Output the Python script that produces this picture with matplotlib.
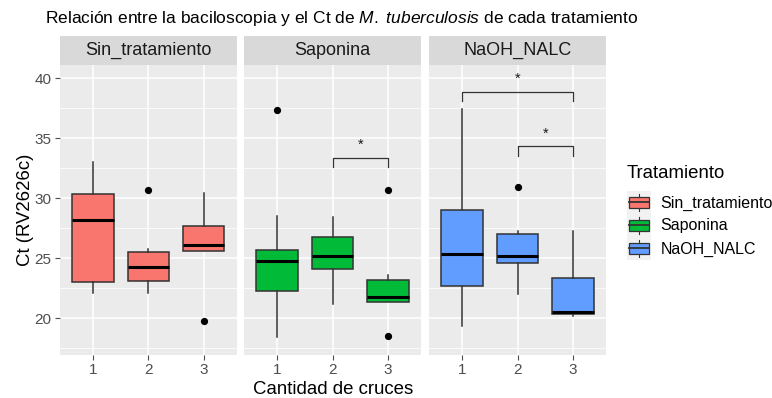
import matplotlib
matplotlib.use("Agg")
import matplotlib.pyplot as plt
from matplotlib.patches import Rectangle
from matplotlib.lines import Line2D
from matplotlib.legend_handler import HandlerBase

plt.rcParams['font.family'] = ['Liberation Sans', 'DejaVu Sans']
plt.rcParams['mathtext.fontset'] = 'custom'
plt.rcParams['mathtext.it'] = 'Liberation Sans:italic'
plt.rcParams['mathtext.rm'] = 'Liberation Sans'

# ---- data ----
groups = ["Sin_tratamiento", "Saponina", "NaOH_NALC"]
cruces = [1, 2, 3]
colors = ["#F8766D", "#00BA38", "#619CFF"]
q1 = [[23.05, 23.13, 25.63], [22.28, 24.10, 21.36], [22.67, 24.58, 20.33]]
med = [[28.22, 24.28, 26.10], [24.75, 25.19, 21.78], [25.33, 25.17, 20.53]]
q3 = [[30.33, 25.50, 27.72], [25.69, 26.80, 23.19], [29.00, 27.00, 23.36]]
whislo = [[22.08, 22.08, 25.63], [18.42, 21.17, 21.36], [19.39, 22.00, 20.22]]
whishi = [[33.00, 25.78, 30.40], [28.53, 28.42, 23.58], [37.42, 27.28, 27.28]]
fliers = [[[], [30.69], [19.80]], [[37.33], [], [30.69, 18.53]], [[], [30.92], []]]
# significance brackets: (from, to, y)
sig = [[], [(2, 3, 33.38)], [(1, 3, 38.88), (2, 3, 34.33)]]
sig_label = "*"
yticks = [20, 25, 30, 35, 40]

W, H = 772, 398
fig = plt.figure(figsize=(W / 100, H / 100), dpi=100)

panel_x = [(60, 236.7), (244, 421), (429, 606)]
py0, py1 = 65, 355
strip_top = 36
ylim = (16.94, 41.1)
edge = "#333333"

def fx(px):
    return px / W

def fy(py):
    return 1 - py / H

axes = []
for i, g in enumerate(groups):
    x0, x1 = panel_x[i]
    ax = fig.add_axes([fx(x0), fy(py1), fx(x1) - fx(x0), fy(py0) - fy(py1)])
    axes.append(ax)
    ax.set_facecolor("#EBEBEB")
    for s in ax.spines.values():
        s.set_visible(False)
    ax.set_xlim(0.4, 3.6)
    ax.set_ylim(*ylim)
    for y in yticks:
        ax.axhline(y, color="white", lw=1.1, zorder=0)
    for y in [17.5, 22.5, 27.5, 32.5, 37.5]:
        ax.axhline(y, color="white", lw=0.55, zorder=0)
    for x in cruces:
        ax.axvline(x, color="white", lw=1.1, zorder=0)
    stats = []
    for j, c in enumerate(cruces):
        stats.append(dict(med=med[i][j], q1=q1[i][j], q3=q3[i][j],
                          whislo=whislo[i][j], whishi=whishi[i][j],
                          fliers=fliers[i][j], label=str(c)))
    bp = ax.bxp(stats, positions=cruces, widths=0.75, patch_artist=True,
                showcaps=False,
                boxprops=dict(facecolor=colors[i], edgecolor=edge, linewidth=1.1),
                medianprops=dict(color="black", linewidth=2.2),
                whiskerprops=dict(color=edge, linewidth=1.1),
                flierprops=dict(marker="o", markerfacecolor="black",
                                markeredgecolor="black", markersize=4.2))
    for b in bp["boxes"]:
        b.set_zorder(2)
    for (a, b, y) in sig[i]:
        tip = 0.8
        ax.plot([a, a, b, b], [y - tip, y, y, y - tip], color="#333333", lw=0.9, zorder=3)
        ax.text((a + b) / 2, y + 0.45, sig_label, ha="center", va="bottom",
                fontsize=10.5, color="#1A1A1A")
    ax.set_xticks(cruces)
    ax.set_xticklabels([str(c) for c in cruces])
    ax.set_yticks(yticks)
    ax.tick_params(axis="both", colors="#4D4D4D", labelcolor="#4D4D4D",
                   labelsize=11, length=3.5, width=0.8, pad=2.5)
    if i > 0:
        ax.tick_params(axis="y", left=False, labelleft=False)
    # strip
    fig.add_artist(Rectangle((fx(x0), fy(py0)), fx(x1) - fx(x0), fy(strip_top) - fy(py0),
                             transform=fig.transFigure, facecolor="#D9D9D9",
                             edgecolor="none"))
    fig.text((fx(x0) + fx(x1)) / 2, (fy(py0) + fy(strip_top)) / 2, g,
             ha="center", va="center", fontsize=13, color="#1A1A1A")

fig.text(fx(333), fy(389), "Cantidad de cruces", ha="center", va="center",
         fontsize=13.4, color="black")
fig.text(fx(26), fy(210), "Ct (RV2626c)", ha="center", va="center",
         rotation=90, fontsize=13.4, color="black")
fig.text(fx(45), fy(18),
         r"Relación entre la baciloscopia y el Ct de $\mathit{M.\ tuberculosis}$ de cada tratamiento",
         ha="left", va="center", fontsize=12.5, color="black")


class BoxHandler(HandlerBase):
    def create_artists(self, legend, orig_handle, xdescent, ydescent,
                       width, height, fontsize, trans):
        fc = orig_handle.get_facecolor()
        x0, y0 = -xdescent, -ydescent
        bg = Rectangle((x0, y0), width, height, facecolor="#F2F2F2",
                       edgecolor="none", transform=trans)
        bw, bh = width * 0.8, height * 0.47
        bx, by = x0 + (width - bw) / 2, y0 + (height - bh) / 2
        box = Rectangle((bx, by), bw, bh, facecolor=fc, edgecolor=edge,
                        lw=0.9, transform=trans)
        cx = x0 + width / 2
        m = Line2D([bx, bx + bw], [y0 + height / 2] * 2, color=edge, lw=1.3,
                   transform=trans)
        w1 = Line2D([cx, cx], [y0 + height * 0.12, by], color=edge, lw=0.8, transform=trans)
        w2 = Line2D([cx, cx], [by + bh, y0 + height * 0.88], color=edge, lw=0.8, transform=trans)
        return [bg, box, m, w1, w2]


handles = [Rectangle((0, 0), 1, 1, facecolor=c) for c in colors]
leg = fig.legend(handles, groups, loc="upper left",
                 bbox_to_anchor=(fx(627), fy(165.5)), frameon=False,
                 title="Tratamiento", title_fontsize=13.4, fontsize=11.5,
                 handler_map={Rectangle: BoxHandler()},
                 handlelength=1.5, handleheight=1.84, labelspacing=0.0,
                 handletextpad=0.6, borderaxespad=0, borderpad=0)
leg._legend_box.align = "left"
leg._legend_box.sep = 6

fig.savefig("out.png", dpi=100)
